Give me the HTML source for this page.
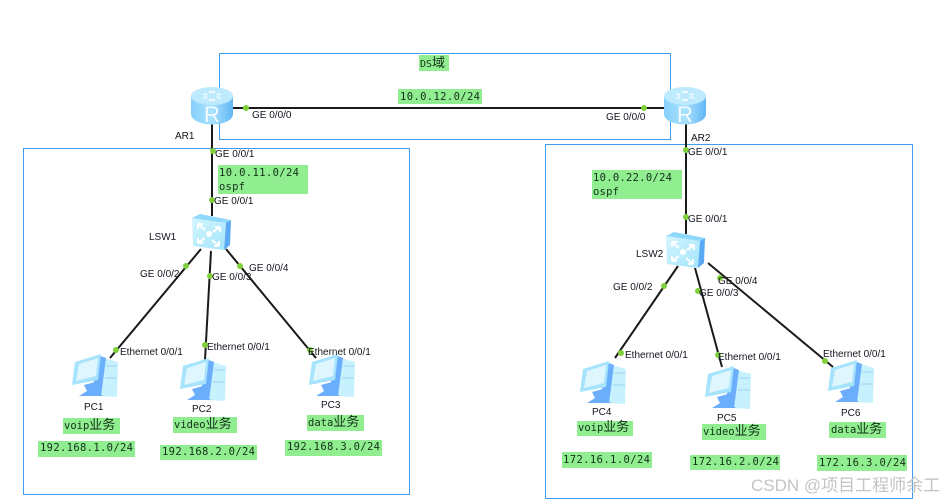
<!DOCTYPE html>
<html><head><meta charset="utf-8">
<style>
html,body{margin:0;padding:0;background:#fff;width:945px;height:501px;overflow:hidden}
svg{display:block}
.l{font:10px "Liberation Sans",sans-serif;fill:#14141f}
.m{font:10.5px "DejaVu Sans Mono","Liberation Mono","Noto Sans CJK SC",monospace;fill:#15301a}
.g{fill:#90ee90}
.d{fill:#7ed13a}
.w{stroke:#1a1a1a;stroke-width:2;fill:none}
.b{fill:none;stroke:#3f9bf0;stroke-width:1}
</style></head><body>
<svg width="945" height="501" viewBox="0 0 945 501" xmlns="http://www.w3.org/2000/svg">
<defs>
<linearGradient id="rt" x1="0" y1="0" x2="1" y2="0"><stop offset="0" stop-color="#86d0fb"/><stop offset=".5" stop-color="#a9e2fd"/><stop offset="1" stop-color="#62b6f6"/></linearGradient>
<linearGradient id="sw" x1="0" y1="0" x2="1" y2="1"><stop offset="0" stop-color="#d3f5fe"/><stop offset="1" stop-color="#a4e4fc"/></linearGradient>
<g id="router">
<path d="M0 9V27C0 33 9.500 37.500 21 37.500S42 33 42 27V9Z" fill="url(#rt)"/>
<ellipse cx="21" cy="9" rx="21" ry="9" fill="#bdeafd"/>
<path d="M11 6l6 1-2 3zM31 6l-6 1 2 3zM11 12l6-1-2-3zM31 12l-6-1 2-3zM18 4h6v2h-6zM18 12h6v2h-6z" fill="#eefaff"/>
<text x="21" y="35" text-anchor="middle" style="font:22px 'Liberation Sans',sans-serif;fill:#f2fbff">R</text>
</g>
<g id="switch">
<path d="M0 4 34 9 32 36 1 32Z" fill="url(#sw)"/>
<path d="M0 4 8 0 39 6 34 9Z" fill="#8ed8fb"/>
<path d="M34 9 39 6 38 31 32 36Z" fill="#5aa9f5"/>
<circle cx="17" cy="20" r="3" fill="#fff"/>
<path d="M6 10l7 6M6 10h5M6 10v5M28 13l-7 5M28 13h-5M28 13v5M6 29l7-5M6 29h5M6 29v-5M27 32l-7-6M27 32h-5M27 32v-5" stroke="#fff" stroke-width="2" fill="none"/>
</g>
<g id="pc">
<path d="M33 5 47 9 46 44 27 43Z" fill="#c8f1fe"/>
<path d="M27 2 35 5 30 43 21 42Z" fill="#6aaefc"/>
<path d="M4 9 30 1 27 27 1 32Z" fill="#a6e3fd"/>
<path d="M8 11 27 5 25 23 5 28Z" fill="#dff6ff"/>
<path d="M13 32 24 29 25 38 32 43H8L16 38Z" fill="#6aaefc"/>
<path d="M35 13H46M34 25H46" stroke="#8fc9f0" stroke-width=".8"/>
</g>
</defs>

<rect class="b" x="219.500" y="53.500" width="451" height="86"/>
<rect class="b" x="23.500" y="148.500" width="386" height="346"/>
<rect class="b" x="545.500" y="144.500" width="367" height="354"/>

<path class="w" d="M233 108H664M212 124V216M686 124V234"/>
<path class="w" d="M201 249 110 358M211 251 205 360M226 249 316 358"/>
<path class="w" d="M678 266 615 358M695 268 722 367M708 263 833 367"/>

<use href="#router" x="191" y="87"/>
<use href="#router" x="664" y="87"/>
<use href="#switch" x="192" y="214"/>
<use href="#switch" x="666" y="232"/>
<use href="#pc" x="71" y="353"/>
<use href="#pc" x="179" y="357"/>
<use href="#pc" x="308" y="353"/>
<use href="#pc" x="579" y="360"/>
<use href="#pc" x="704" y="365"/>
<use href="#pc" x="827" y="359"/>

<g class="d">
<circle cx="246" cy="108" r="3"/><circle cx="644" cy="108" r="3"/>
<circle cx="213" cy="151" r="3"/><circle cx="212" cy="200" r="3"/>
<circle cx="686" cy="150" r="3"/><circle cx="686" cy="217" r="3"/>
<circle cx="186" cy="266" r="3"/><circle cx="210" cy="276" r="3"/><circle cx="240" cy="266" r="3"/>
<circle cx="664" cy="286" r="3"/><circle cx="698" cy="291" r="3"/><circle cx="720" cy="278" r="3"/>
<circle cx="116" cy="350" r="3"/><circle cx="205" cy="345" r="3"/><circle cx="310" cy="350" r="3"/>
<circle cx="621" cy="353" r="3"/><circle cx="718" cy="355" r="3"/><circle cx="825" cy="361" r="3"/>
</g>

<g class="g">
<rect x="419" y="55" width="30" height="16"/>
<rect x="398" y="89" width="84" height="15"/>
<rect x="218" y="165" width="90" height="29"/>
<rect x="592" y="170" width="90" height="29"/>
<rect x="63" y="418" width="57" height="16"/>
<rect x="173" y="417" width="64" height="16"/>
<rect x="307" y="415" width="57" height="16"/>
<rect x="38" y="441" width="97" height="16"/>
<rect x="160" y="445" width="97" height="15"/>
<rect x="285" y="440" width="97" height="16"/>
<rect x="577" y="421" width="56" height="15"/>
<rect x="702" y="424" width="64" height="16"/>
<rect x="829" y="422" width="57" height="16"/>
<rect x="562" y="452" width="90" height="16"/>
<rect x="690" y="455" width="90" height="15"/>
<rect x="817" y="455" width="90" height="16"/>
</g>

<g class="m">
<text x="420" y="67" font-size="10">DS<tspan font-size="13">域</tspan></text>
<text x="400" y="100" textLength="80">10.0.12.0/24</text>
<text x="219" y="176" textLength="80">10.0.11.0/24</text>
<text x="219" y="190" textLength="26">ospf</text>
<text x="593" y="181" textLength="79">10.0.22.0/24</text>
<text x="593" y="195" textLength="26">ospf</text>
<text x="64" y="429">voip<tspan font-size="13">业务</tspan></text>
<text x="174" y="428">video<tspan font-size="13">业务</tspan></text>
<text x="308" y="426">data<tspan font-size="13">业务</tspan></text>
<text x="40" y="451" textLength="93">192.168.1.0/24</text>
<text x="162" y="455" textLength="93">192.168.2.0/24</text>
<text x="287" y="450" textLength="93">192.168.3.0/24</text>
<text x="578" y="431">voip<tspan font-size="13">业务</tspan></text>
<text x="703" y="435">video<tspan font-size="13">业务</tspan></text>
<text x="831" y="433">data<tspan font-size="13">业务</tspan></text>
<text x="563" y="463" textLength="87">172.16.1.0/24</text>
<text x="692" y="465" textLength="87">172.16.2.0/24</text>
<text x="819" y="466" textLength="87">172.16.3.0/24</text>
</g>

<g class="l">
<text x="252" y="118">GE 0/0/0</text>
<text x="606" y="120">GE 0/0/0</text>
<text x="175" y="139">AR1</text>
<text x="691" y="141">AR2</text>
<text x="215" y="157">GE 0/0/1</text>
<text x="214" y="204">GE 0/0/1</text>
<text x="688" y="155">GE 0/0/1</text>
<text x="688" y="222">GE 0/0/1</text>
<text x="149" y="240">LSW1</text>
<text x="636" y="257">LSW2</text>
<text x="140" y="277">GE 0/0/2</text>
<text x="212" y="280">GE 0/0/3</text>
<text x="249" y="271">GE 0/0/4</text>
<text x="613" y="290">GE 0/0/2</text>
<text x="699" y="296">GE 0/0/3</text>
<text x="718" y="284">GE 0/0/4</text>
<text x="120" y="355">Ethernet 0/0/1</text>
<text x="207" y="350">Ethernet 0/0/1</text>
<text x="308" y="355">Ethernet 0/0/1</text>
<text x="625" y="358">Ethernet 0/0/1</text>
<text x="718" y="360">Ethernet 0/0/1</text>
<text x="823" y="357">Ethernet 0/0/1</text>
<text x="84" y="410">PC1</text>
<text x="192" y="412">PC2</text>
<text x="321" y="408">PC3</text>
<text x="592" y="415">PC4</text>
<text x="717" y="421">PC5</text>
<text x="841" y="416">PC6</text>
</g>
<text x="751" y="491" style="font:17px 'Liberation Sans','Noto Sans CJK SC',sans-serif;fill:#c4c4c4">CSDN @项目工程师余工</text>
</svg>
</body></html>
